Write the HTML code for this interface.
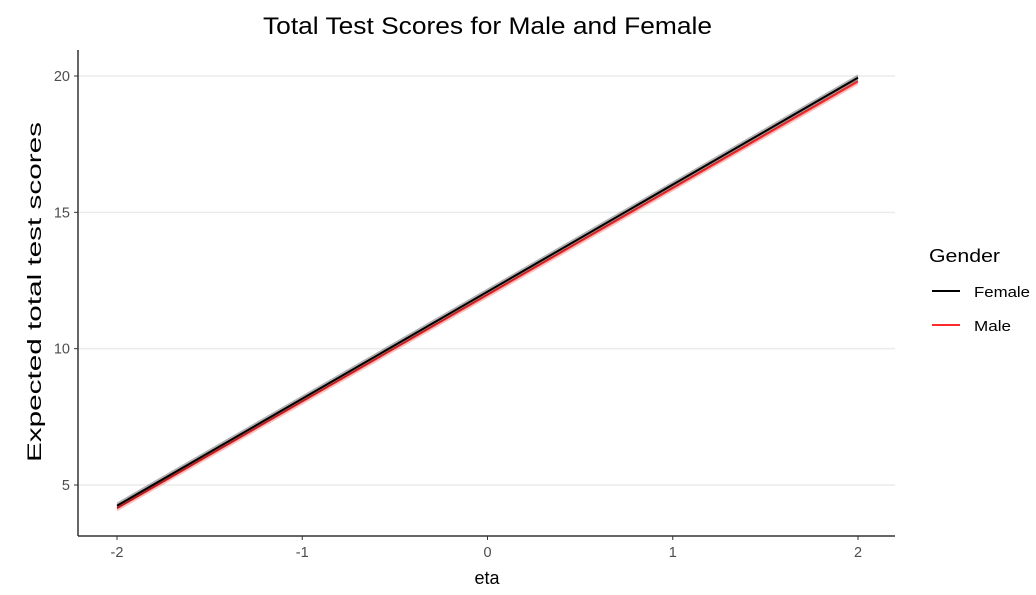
<!DOCTYPE html>
<html><head><meta charset="utf-8"><style>
html,body{margin:0;padding:0;background:#fff;width:1036px;height:595px;overflow:hidden;font-family:"Liberation Sans",sans-serif}
</style></head><body>
<svg id="chart" width="1036" height="595" xmlns="http://www.w3.org/2000/svg" font-family="Liberation Sans, sans-serif">
<text x="263" y="34" font-size="24" textLength="449" lengthAdjust="spacingAndGlyphs" fill="#000">Total Test Scores for Male and Female</text>
<g id="grid"></g>
<g id="series"></g>
<line x1="78" y1="50" x2="78" y2="536" stroke="#333" stroke-width="1.5"/>
<line x1="78" y1="536" x2="895" y2="536" stroke="#333" stroke-width="1.5"/>
<g id="ticks"></g>
<text x="487" y="584" font-size="18" text-anchor="middle">eta</text>
<text transform="translate(41,462) rotate(-90)" font-size="19" textLength="340" lengthAdjust="spacingAndGlyphs">Expected total test scores</text>
<g>
<text x="929" y="262" font-size="18" textLength="71" lengthAdjust="spacingAndGlyphs">Gender</text>
<g><line x1="932" y1="291" x2="960" y2="291" stroke="#000" stroke-width="2"/><text x="974" y="297" font-size="15" textLength="56" lengthAdjust="spacingAndGlyphs">Female</text></g>
<g><line x1="932" y1="325" x2="960" y2="325" stroke="#ff2a2a" stroke-width="2"/><text x="974" y="331" font-size="15" textLength="37" lengthAdjust="spacingAndGlyphs">Male</text></g>
</g>
</svg>
<script>
const xTicks=[-2,-1,0,1,2];
const yTicks=[5,10,15,20];
const etaRange=[-2,2];
const femaleScores=[4.24,19.94];
const maleScores=[4.15,19.8];
const ribbonHalf=[0.12,0.12];
const NS="http://www.w3.org/2000/svg";
const xs=v=>117+(v+2)*(858-117)/4;
const ys=v=>76+(20-v)*(485-76)/15;
const mk=(t,a,p)=>{const e=document.createElementNS(NS,t);for(const k in a)e.setAttribute(k,a[k]);p.appendChild(e);return e;};
const grid=document.getElementById('grid'),ticks=document.getElementById('ticks'),ser=document.getElementById('series');
yTicks.forEach(v=>{
 const g=mk('line',{x1:78,x2:895,y1:ys(v),y2:ys(v),stroke:'#ebebeb','stroke-width':1.5},grid);
 
 
 const t=mk('line',{x1:74,x2:78,y1:ys(v),y2:ys(v),stroke:'#333'},ticks);
 
 
 const l=mk('text',{x:70,y:ys(v)+5,'font-size':14.5,'text-anchor':'end',fill:'#4d4d4d'},ticks);l.textContent=v;
 
 
});
xTicks.forEach(v=>{
 const t=mk('line',{x1:xs(v),x2:xs(v),y1:536,y2:540,stroke:'#333'},ticks);
 
 
 const l=mk('text',{x:xs(v),y:557,'font-size':14.5,'text-anchor':'middle',fill:'#4d4d4d'},ticks);l.textContent=v;
 
 
});
function draw(vals,color,name){
 const p=`${xs(etaRange[0])},${ys(vals[0]+ribbonHalf[0])} ${xs(etaRange[1])},${ys(vals[1]+ribbonHalf[1])} ${xs(etaRange[1])},${ys(vals[1]-ribbonHalf[1])} ${xs(etaRange[0])},${ys(vals[0]-ribbonHalf[0])}`;
 const r=mk('polygon',{points:p,fill:color,opacity:0.3},ser);
 
 
 const l=mk('line',{x1:xs(etaRange[0]),y1:ys(vals[0]),x2:xs(etaRange[1]),y2:ys(vals[1]),stroke:color,'stroke-width':2},ser);
 
 
}
draw(maleScores,'#ff2a2a','male');
draw(femaleScores,'#000','female');
</script>
</body></html>
